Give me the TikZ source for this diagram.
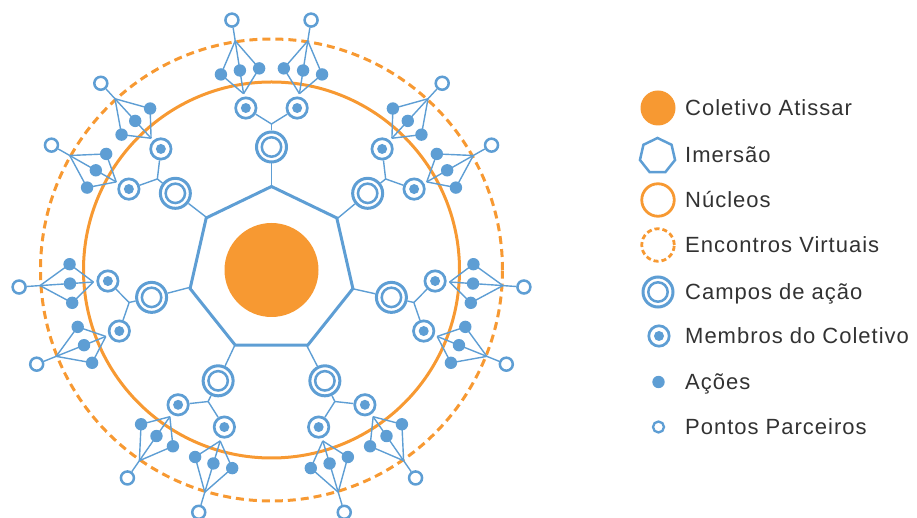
\documentclass[tikz,border=0pt]{standalone}
\usepackage{fontspec}
\setmainfont{Liberation Sans}[LetterSpace=4.5]
\usepackage{tikz}
\usetikzlibrary{shapes.geometric,positioning}

\definecolor{azul}{RGB}{94,158,212}
\definecolor{laranja}{RGB}{247,153,50}
\definecolor{texto}{RGB}{50,50,50}

\tikzset{
  coletivo/.style={circle,fill=laranja,inner sep=0pt,minimum size=35pt},
  imersao/.style={regular polygon,regular polygon sides=7,draw=azul,line width=3pt,inner sep=0pt,outer sep=0pt},
  nucleo/.style={circle,draw=laranja,line width=2.8pt,inner sep=0pt,minimum size=32.5pt},
  virtual/.style={nucleo,dash pattern=on 5pt off 3pt},
  campo/.style={circle,draw=azul,fill=white,line width=3pt,inner sep=0pt,minimum size=30pt,
    path picture={\draw[azul,line width=2.5pt] (path picture bounding box.center) circle (9.7pt);}},
  membro/.style={circle,draw=azul,fill=white,line width=2.7pt,inner sep=0pt,minimum size=20.4pt,
    path picture={\fill[azul] (path picture bounding box.center) circle (5pt);}},
  acao/.style={circle,fill=azul,inner sep=0pt,minimum size=12.4pt},
  ponto/.style={circle,draw=azul,fill=white,line width=2.5pt,inner sep=0pt,minimum size=13pt},
  liga/.style={draw=azul,line width=1.4pt},
  rotulo/.style={anchor=base west,inner sep=0pt,text=texto,font=\fontsize{22}{26}\selectfont}
}

\begin{document}
\begin{tikzpicture}[x=1pt,y=1pt]
  \useasboundingbox (-271.5,-248) rectangle (645.5,270);

  % aneis
  \draw[laranja,line width=3pt] (0,0) circle (188);
  \draw[laranja,line width=3pt,dash pattern=on 8pt off 5pt] (0,0) circle (231);

  % centro
  \node[coletivo,minimum size=94pt] (centro) at (0,0) {};
  \node[imersao,minimum size=167pt] (imersao) at (0,0) {};

  % campos, membros, acoes e pontos
  \foreach \k in {0,...,6}{
    \pgfmathsetmacro\a{90+\k*360/7}
    \node[campo] (campo_\k) at (\a:123) {};
    \coordinate (ramo_\k) at (\a:146);
    \draw[liga] (imersao.\a) -- (campo_\k);
    \draw[liga] (campo_\k) -- (ramo_\k);
    \foreach \s/\m in {-1/a,1/b}{
      \pgfmathsetmacro\b{\a+\s*9}
      \node[membro] (membro_\k_\m) at (\b:164) {};
      \coordinate (pe_\k_\m) at (\b:178.5);
      \coordinate (hub_\k_\m) at (\b:232);
      \node[ponto] (ponto_\k_\m) at (\b:253) {};
      \draw[liga] (ramo_\k) -- (membro_\k_\m);
      \draw[liga] (hub_\k_\m) -- (ponto_\k_\m);
      \foreach \i in {-1,0,1}{
        \node[acao] (acao_\k_\m_\i) at ({\b+\i*5.5}:202) {};
        \draw[liga] (pe_\k_\m) -- (acao_\k_\m_\i.center) -- (hub_\k_\m);
      }
    }
  }

  % legenda
  \node[coletivo] (leg_coletivo) at (386.5,162) {};
  \node[imersao,line width=2.5pt,minimum size=36pt] (leg_imersao) at (386,114) {};
  \node[nucleo] (leg_nucleo) at (386.5,70) {};
  \node[virtual] (leg_virtual) at (386.5,25) {};
  \node[campo] (leg_campo) at (386.5,-22) {};
  \node[membro] (leg_membro) at (387.5,-66) {};
  \node[acao] (leg_acao) at (387,-112) {};
  \node[ponto,minimum size=11pt,line width=2.3pt] (leg_ponto) at (387,-157) {};

  \node[rotulo] (txt_coletivo) at (413.5,154) {Coletivo Atissar};
  \node[rotulo] (txt_imersao) at (413.5,107) {Imersão};
  \node[rotulo] (txt_nucleo) at (413.5,62) {Núcleos};
  \node[rotulo] (txt_virtual) at (413.5,17) {Encontros Virtuais};
  \node[rotulo] (txt_campo) at (413.5,-30) {Campos de ação};
  \node[rotulo] (txt_membro) at (413.5,-74) {Membros do Coletivo};
  \node[rotulo] (txt_acao) at (413.5,-120) {Ações};
  \node[rotulo] (txt_ponto) at (413.5,-165) {Pontos Parceiros};
\end{tikzpicture}
\end{document}
